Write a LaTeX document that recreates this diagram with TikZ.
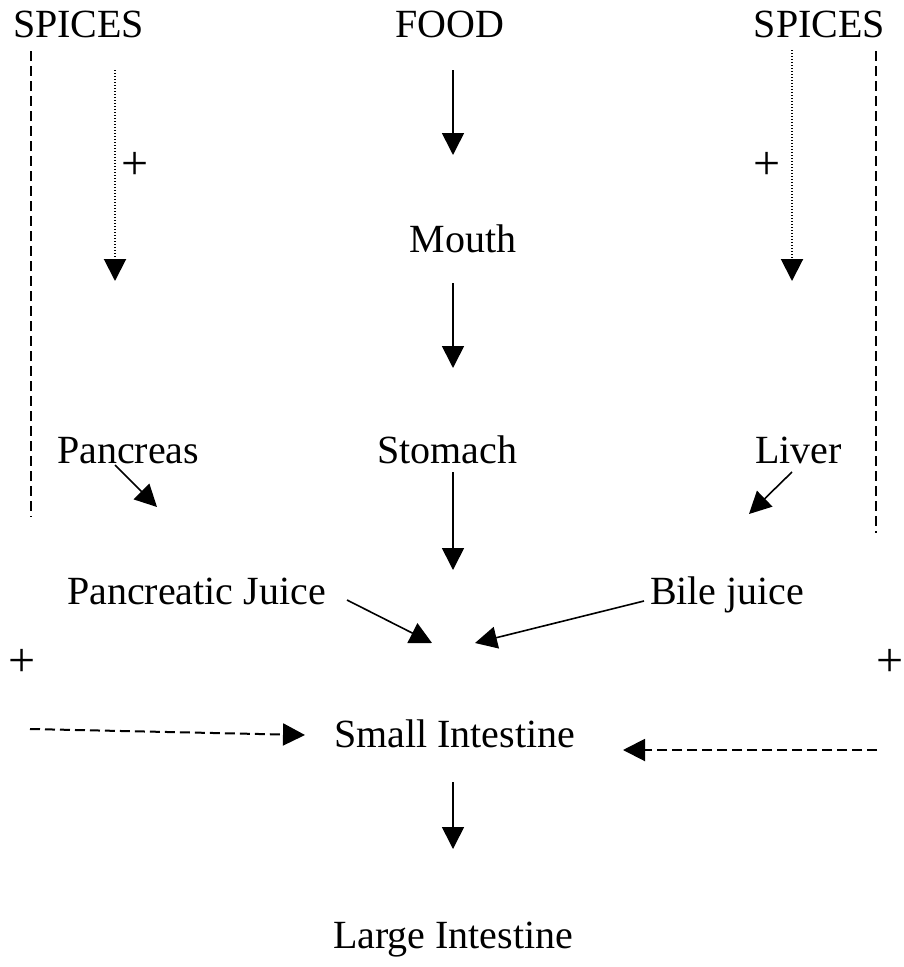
\documentclass[tikz,border=0pt]{standalone}
\usepackage{fontspec}
\setmainfont{Liberation Serif}
\usetikzlibrary{arrows.meta}
\begin{document}
\begin{tikzpicture}[x=1pt,y=-1pt,
  lbl/.style={inner sep=0pt,outer sep=0pt,font=\fontsize{40}{48}\selectfont},
  pluslbl/.style={inner sep=0pt,outer sep=0pt,font=\fontsize{48}{56}\selectfont},
  flow/.style={line width=1.6pt,-{Triangle[length=22pt,width=22pt]}},
  dotflow/.style={line width=2pt,dash pattern=on 1.4pt off 1.6pt,-{Triangle[length=22pt,width=22pt]}},
  dashflow/.style={line width=2pt,dash pattern=on 10pt off 5pt,-{Triangle[length=22pt,width=22pt]}},
  dashline/.style={line width=2.2pt,dash pattern=on 10pt off 5pt}]
\useasboundingbox (0,0) rectangle (904,967);
% texts
\node[lbl,anchor=base west] (spicesL) at (13,37) {SPICES};
\node[lbl,anchor=base] (food) at (450,37) {FOOD};
\node[lbl,anchor=base east] (spicesR) at (885,37) {SPICES};
\node[lbl,anchor=base] (mouth) at (463,252) {Mouth};
\node[lbl,anchor=base west] (pancreas) at (57,463) {Pancreas};
\node[lbl,anchor=base west] (stomach) at (377,463) {Stomach};
\node[lbl,anchor=base west] (liver) at (755,463) {Liver};
\node[lbl,anchor=base west] (pj) at (67,604) {Pancreatic Juice};
\node[lbl,anchor=base west] (bile) at (650,604) {Bile juice};
\node[lbl,anchor=base west] (small) at (334,747) {Small Intestine};
\node[lbl,anchor=base west] (large) at (333,948) {Large Intestine};
\node[pluslbl] (plusA) at (135,166) {+};
\node[pluslbl] (plusB) at (767,166) {+};
\node[pluslbl] (plusC) at (22,663) {+};
\node[pluslbl] (plusD) at (890,663) {+};
% connector ends
\coordinate (dLa) at (31,51);  \coordinate (dLb) at (31,517);
\coordinate (dRa) at (876,51); \coordinate (dRb) at (876,533);
\coordinate (tLa) at (115,70); \coordinate (tLb) at (115,281);
\coordinate (tRa) at (792,50); \coordinate (tRb) at (792,281);
\coordinate (fa) at (453,70);  \coordinate (fb) at (453,155);
\coordinate (ma) at (453,283); \coordinate (mb) at (453,368);
\coordinate (sa) at (453,472); \coordinate (sb) at (453,570);
\coordinate (pa) at (115,465); \coordinate (pb) at (157,507);
\coordinate (la) at (792,472); \coordinate (lb) at (749,514);
\coordinate (ja) at (347,600); \coordinate (jb) at (432,643);
\coordinate (ba) at (644,601); \coordinate (bb) at (475,643);
\coordinate (hLa) at (30,729); \coordinate (hLb) at (305,735);
\coordinate (hRa) at (877,750); \coordinate (hRb) at (623,750);
\coordinate (ia) at (453,782); \coordinate (ib) at (453,849);
% connectors
\draw[dashline] (dLa) -- (dLb);
\draw[dashline] (dRa) -- (dRb);
\draw[dotflow] (tLa) -- (tLb);
\draw[dotflow] (tRa) -- (tRb);
\draw[flow] (fa) -- (fb);
\draw[flow] (ma) -- (mb);
\draw[flow] (sa) -- (sb);
\draw[flow] (pa) -- (pb);
\draw[flow] (la) -- (lb);
\draw[flow] (ja) -- (jb);
\draw[flow] (ba) -- (bb);
\draw[dashflow] (hLa) -- (hLb);
\draw[dashflow] (hRa) -- (hRb);
\draw[flow] (ia) -- (ib);
\end{tikzpicture}
\end{document}
